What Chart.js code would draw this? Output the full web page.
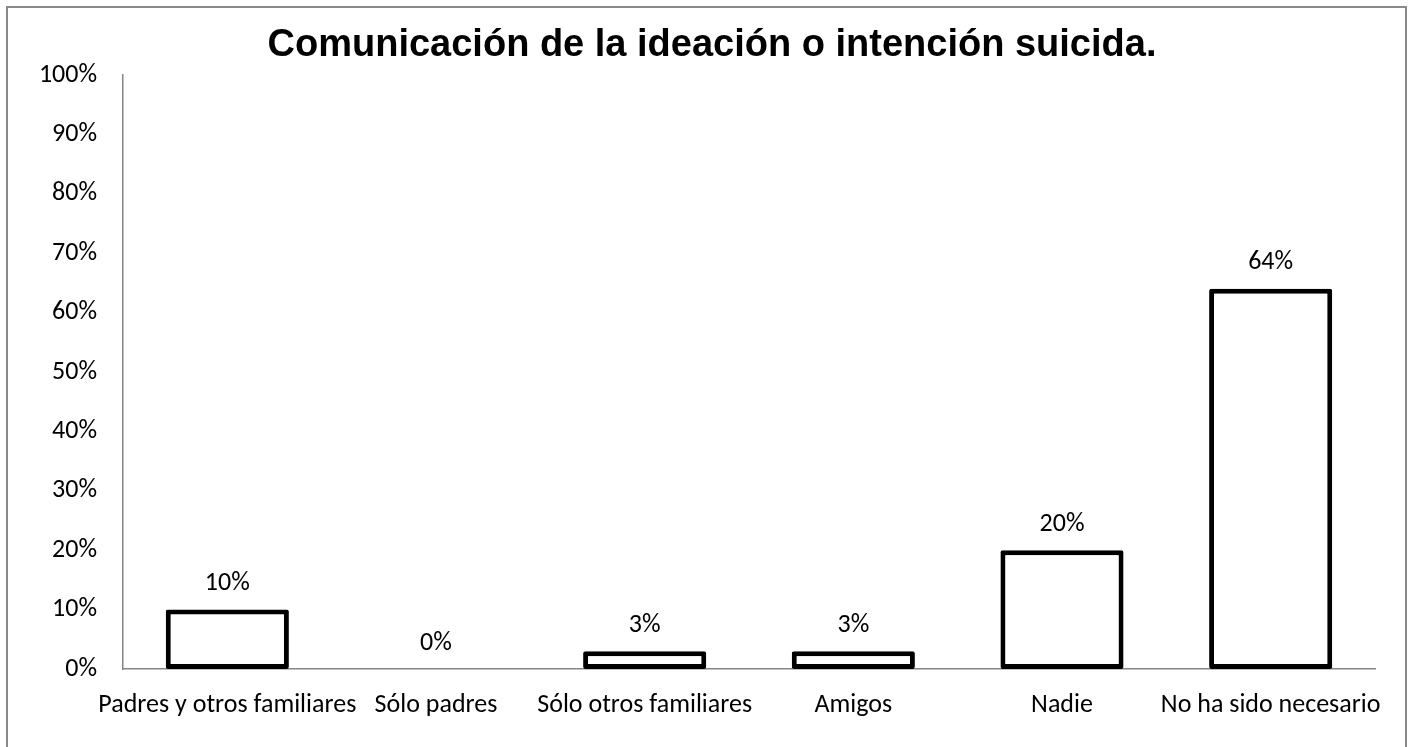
<!DOCTYPE html>
<html>
<head>
<meta charset="utf-8">
<script src="https://cdn.jsdelivr.net/npm/chart.js@4"></script>
<style>
  html, body { margin: 0; padding: 0; background: #fff; }
  #wrap { position: relative; width: 1415px; height: 747px; }
  #frame { position: absolute; left: 6px; top: 6px; width: 1401px; height: 760px;
           border: 2px solid #898989; pointer-events: none; box-sizing: border-box; }
</style>
</head>
<body>
<div id="wrap">
  <canvas id="chart" width="1415" height="747"></canvas>
  <div id="frame"></div>
</div>
<script>
// datos del gráfico
const categorias = ['Padres y otros familiares', 'Sólo padres', 'Sólo otros familiares', 'Amigos', 'Nadie', 'No ha sido necesario'];
const porcentajes = [10, 0, 3, 3, 20, 64];
const titulo = 'Comunicación de la ideación o intención suicida.';

const fuente = "Carlito, Lato, 'Open Sans', sans-serif";

// título y etiquetas de valor
const etiquetas = {
  id: 'etiquetas',
  afterDatasetsDraw(chart) {
    const ctx = chart.ctx;
    const meta = chart.getDatasetMeta(0);
    ctx.save();
    ctx.fillStyle = '#000';
    ctx.font = '26px ' + fuente;
    ctx.textAlign = 'center';
    ctx.textBaseline = 'middle';
    meta.data.forEach((bar, i) => {
      ctx.fillText(porcentajes[i] + '%', bar.x, bar.y - 26);
    });
    ctx.font = "bold 38px 'Liberation Sans', Arial, sans-serif";
    ctx.fillText(titulo, 712, 46);
    ctx.restore();
  }
};

new Chart(document.getElementById('chart'), {
  type: 'bar',
  data: {
    labels: categorias,
    datasets: [{
      data: porcentajes,
      backgroundColor: '#fff',
      borderColor: '#000',
      borderWidth: ctx => (porcentajes[ctx.dataIndex] === 0 ? 0 : 5),
      borderSkipped: false,
      borderRadius: 2,
      barPercentage: 0.59,
      categoryPercentage: 1
    }]
  },
  options: {
    responsive: false,
    animation: false,
    layout: { padding: { left: 0, top: 75, right: 40, bottom: 0 } },
    plugins: {
      legend: { display: false },
      tooltip: { enabled: false },
      title: { display: false }
    },
    scales: {
      x: {
        grid: { display: false, drawTicks: false },
        border: { color: '#868686', width: 1.5 },
        ticks: { color: '#000', font: { family: fuente, size: 26 }, padding: 21, maxRotation: 0, autoSkip: false },
        afterFit: scale => { scale.height = 78; }
      },
      y: {
        min: 0,
        max: 100,
        grid: { display: false, drawTicks: false },
        border: { color: '#868686', width: 1.5 },
        ticks: {
          stepSize: 10,
          color: '#000',
          font: { family: fuente, size: 26 },
          padding: 26,
          callback: v => v + '%'
        },
        afterFit: scale => { scale.width = 123; }
      }
    }
  },
  plugins: [etiquetas]
});
</script>
</body>
</html>
